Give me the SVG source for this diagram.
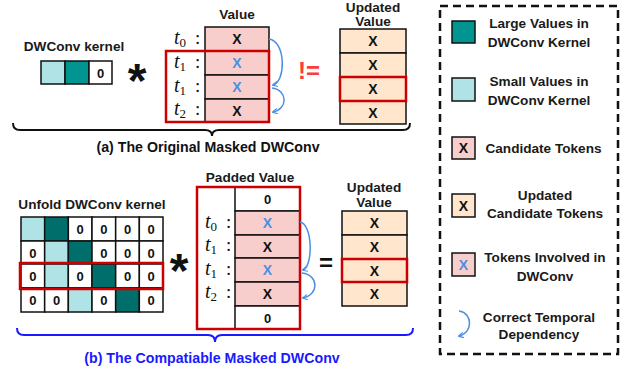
<svg xmlns="http://www.w3.org/2000/svg" width="627" height="372" viewBox="0 0 627 372">
<defs>
<marker id="ah" viewBox="0 0 8 8" refX="6" refY="4" markerWidth="6" markerHeight="6" orient="auto" markerUnits="userSpaceOnUse">
<path d="M0,0.5 L7,4 L0,7.5" fill="none" stroke="#4a90e2" stroke-width="1.5"/>
</marker>
</defs>
<style>
.lbl{font-family:"Liberation Sans",Arial,sans-serif;font-weight:bold;font-size:13.6px;fill:#1a1a1a;text-anchor:middle}
.cap{font-family:"Liberation Sans",Arial,sans-serif;font-weight:bold;font-size:14.2px;text-anchor:middle}
.x{font-family:"Liberation Sans",Arial,sans-serif;font-weight:bold;font-size:14px;text-anchor:middle;fill:#111}
.xb{fill:#4a90e2}
.z{font-family:"Liberation Sans",Arial,sans-serif;font-weight:bold;font-size:13px;text-anchor:middle;fill:#111}
.t{font-family:"Liberation Serif","Times New Roman",serif;font-style:italic;font-size:20px;fill:#111}
.sub{font-style:normal;font-size:13px}
.col{font-family:"Liberation Serif","Times New Roman",serif;font-size:19px;fill:#111}
.cell{stroke:#111;stroke-width:1.5}
.pink{fill:#f8cecc}
.peach{fill:#ffe6cc}
.white{fill:#fff}
.lt{fill:#b0e3e6}
.tl{fill:#009590}
.tld{fill:#006f6b}
.red{fill:none;stroke:#cc0000;stroke-width:2.5}
.arc{fill:none;stroke:#4a90e2;stroke-width:1.5;marker-end:url(#ah)}
.op{font-family:"Liberation Sans",Arial,sans-serif;font-weight:bold;fill:#111;text-anchor:middle}
</style>
<rect width="627" height="372" fill="#fff"/>

<!-- (a) Original -->
<g id="kernel-a">
<text class="lbl" x="74" y="51">DWConv kernel</text>
<rect class="cell lt" x="41" y="61" width="24" height="23"/>
<rect class="cell tl" x="65" y="61" width="24" height="23"/>
<rect class="cell white" x="89" y="61" width="23" height="23"/>
<text class="z" x="100.5" y="77.5">0</text>
</g>
<g id="op-star-a"><text class="op" x="137" y="97" font-size="48">*</text></g>
<g id="value-a">
<text class="lbl" x="237" y="19">Value</text>
<rect class="cell pink" x="205" y="27" width="64" height="24"/>
<rect class="cell pink" x="205" y="51" width="64" height="24"/>
<rect class="cell pink" x="205" y="75" width="64" height="24"/>
<rect class="cell pink" x="205" y="99" width="64" height="23"/>
<text class="x" x="237" y="44">X</text>
<text class="x xb" x="237" y="68">X</text>
<text class="x xb" x="237" y="92">X</text>
<text class="x" x="237" y="116">X</text>
<text class="t" x="174" y="44">t<tspan class="sub" dy="3">0</tspan></text><text class="col" x="195" y="44">:</text>
<text class="t" x="174" y="68">t<tspan class="sub" dy="3">1</tspan></text><text class="col" x="195" y="68">:</text>
<text class="t" x="174" y="92">t<tspan class="sub" dy="3">1</tspan></text><text class="col" x="195" y="92">:</text>
<text class="t" x="174" y="115">t<tspan class="sub" dy="3">2</tspan></text><text class="col" x="195" y="115">:</text>
<rect class="red" x="166" y="51" width="103" height="71"/>
</g>
<g id="neq"><text class="op" x="309" y="79" font-size="24" style="fill:#ff3b3b">!=</text></g>
<g id="updated-a">
<text class="lbl" x="373" y="11.5">Updated</text>
<text class="lbl" x="373" y="25.5">Value</text>
<rect class="cell peach" x="340" y="29" width="66" height="24"/>
<rect class="cell peach" x="340" y="53" width="66" height="24"/>
<rect class="cell peach" x="340" y="77" width="66" height="24"/>
<rect class="cell peach" x="340" y="101" width="66" height="23"/>
<text class="x" x="373" y="46">X</text>
<text class="x" x="373" y="70">X</text>
<text class="x" x="373" y="94">X</text>
<text class="x" x="373" y="118">X</text>
<rect class="red" x="340" y="77" width="66" height="24"/>
</g>
<g id="caption-a">
<path d="M13,123 Q13,130 20,130 L205,130 Q212,130 212,136 Q212,130 219,130 L403,130 Q410,130 410,123" fill="none" stroke="#111" stroke-width="2"/>
<text class="cap" x="208" y="152" fill="#111">(a) The Original Masked DWConv</text>
</g>

<!-- (b) Compatible -->
<g id="kernel-b">
<text class="lbl" x="92" y="209">Unfold DWConv kernel</text>
<g>
<rect class="cell lt" x="21" y="217" width="23.67" height="24"/>
<rect class="cell tld" x="44.67" y="217" width="23.67" height="24"/>
<rect class="cell white" x="68.33" y="217" width="23.67" height="24"/>
<rect class="cell white" x="92" y="217" width="23.67" height="24"/>
<rect class="cell white" x="115.67" y="217" width="23.67" height="24"/>
<rect class="cell white" x="139.33" y="217" width="23.67" height="24"/>

<rect class="cell white" x="21" y="241" width="23.67" height="23"/>
<rect class="cell lt" x="44.67" y="241" width="23.67" height="23"/>
<rect class="cell tld" x="68.33" y="241" width="23.67" height="23"/>
<rect class="cell white" x="92" y="241" width="23.67" height="23"/>
<rect class="cell white" x="115.67" y="241" width="23.67" height="23"/>
<rect class="cell white" x="139.33" y="241" width="23.67" height="23"/>

<rect class="cell white" x="21" y="264" width="23.67" height="24"/>
<rect class="cell lt" x="44.67" y="264" width="23.67" height="24"/>
<rect class="cell white" x="68.33" y="264" width="23.67" height="24"/>
<rect class="cell tld" x="92" y="264" width="23.67" height="24"/>
<rect class="cell white" x="115.67" y="264" width="23.67" height="24"/>
<rect class="cell white" x="139.33" y="264" width="23.67" height="24"/>

<rect class="cell white" x="21" y="288" width="23.67" height="24"/>
<rect class="cell white" x="44.67" y="288" width="23.67" height="24"/>
<rect class="cell lt" x="68.33" y="288" width="23.67" height="24"/>
<rect class="cell white" x="92" y="288" width="23.67" height="24"/>
<rect class="cell tld" x="115.67" y="288" width="23.67" height="24"/>
<rect class="cell white" x="139.33" y="288" width="23.67" height="24"/>
</g>
<text class="z" x="80.2" y="234">0</text><text class="z" x="103.8" y="234">0</text><text class="z" x="127.5" y="234">0</text><text class="z" x="151.2" y="234">0</text>
<text class="z" x="32.8" y="257.5">0</text><text class="z" x="103.8" y="257.5">0</text><text class="z" x="127.5" y="257.5">0</text><text class="z" x="151.2" y="257.5">0</text>
<text class="z" x="32.8" y="281">0</text><text class="z" x="80.2" y="281">0</text><text class="z" x="127.5" y="281">0</text><text class="z" x="151.2" y="281">0</text>
<text class="z" x="32.8" y="305">0</text><text class="z" x="56.5" y="305">0</text><text class="z" x="103.8" y="305">0</text><text class="z" x="151.2" y="305">0</text>
<rect class="red" x="20" y="263" width="143" height="26"/>
</g>
<g id="op-star-b"><text class="op" x="179" y="287" font-size="48">*</text></g>
<g id="value-b">
<text class="lbl" x="250" y="182">Padded Value</text>
<rect class="cell white" x="235" y="187" width="65" height="24"/>
<rect class="cell pink" x="235" y="211" width="65" height="24"/>
<rect class="cell pink" x="235" y="235" width="65" height="23"/>
<rect class="cell pink" x="235" y="258" width="65" height="24"/>
<rect class="cell pink" x="235" y="282" width="65" height="24"/>
<rect class="cell white" x="235" y="306" width="65" height="23"/>
<text class="z" x="267.5" y="203.5">0</text>
<text class="x xb" x="267.5" y="228">X</text>
<text class="x" x="267.5" y="251.5">X</text>
<text class="x xb" x="267.5" y="275">X</text>
<text class="x" x="267.5" y="299">X</text>
<text class="z" x="267.5" y="322.5">0</text>
<text class="t" x="205" y="228">t<tspan class="sub" dy="3">0</tspan></text><text class="col" x="226" y="228">:</text>
<text class="t" x="205" y="251">t<tspan class="sub" dy="3">1</tspan></text><text class="col" x="226" y="251">:</text>
<text class="t" x="205" y="275">t<tspan class="sub" dy="3">1</tspan></text><text class="col" x="226" y="275">:</text>
<text class="t" x="205" y="298">t<tspan class="sub" dy="3">2</tspan></text><text class="col" x="226" y="298">:</text>
<rect class="red" x="197" y="187" width="103" height="142"/>
</g>
<g id="eq"><text class="op" x="326" y="271" font-size="24">=</text></g>
<g id="updated-b">
<text class="lbl" x="374" y="192">Updated</text>
<text class="lbl" x="374" y="207">Value</text>
<rect class="cell peach" x="342" y="211" width="65" height="24"/>
<rect class="cell peach" x="342" y="235" width="65" height="24"/>
<rect class="cell peach" x="342" y="259" width="65" height="23"/>
<rect class="cell peach" x="342" y="282" width="65" height="24"/>
<text class="x" x="374.5" y="228">X</text>
<text class="x" x="374.5" y="252">X</text>
<text class="x" x="374.5" y="275.5">X</text>
<text class="x" x="374.5" y="299">X</text>
<rect class="red" x="342" y="259" width="65" height="23"/>
</g>
<g id="caption-b">
<path d="M17,328 Q17,335 24,335 L208,335 Q215,335 215,342 Q215,335 222,335 L406,335 Q413,335 413,328" fill="none" stroke="#1a1aff" stroke-width="2"/>
<text class="cap" x="212" y="363" fill="#1a1aff">(b) The Compatiable Masked DWConv</text>
</g>

<!-- connectors -->
<g id="connectors">
<path class="arc" d="M269,39 C286,41 286,82 273,85"/>
<path class="arc" d="M272,88 C288,90 288,109 273,112"/>
<path class="arc" d="M300,222 C313,224 313,267 303,270"/>
<path class="arc" d="M302,273 C319,275 319,295 303,298"/>
</g>

<!-- legend -->
<g id="legend">
<rect x="440" y="6" width="178" height="348" fill="none" stroke="#111" stroke-width="2.5" stroke-dasharray="8,5"/>
<g id="leg-large">
<rect class="cell tl" x="452" y="21" width="23" height="22"/>
<text class="lbl" x="539" y="28">Large Values in</text>
<text class="lbl" x="539" y="47">DWConv Kernel</text>
</g>
<g id="leg-small">
<rect class="cell lt" x="452" y="78" width="23" height="23"/>
<text class="lbl" x="539" y="86">Small Values in</text>
<text class="lbl" x="539" y="105">DWConv Kernel</text>
</g>
<g id="leg-cand">
<rect class="cell pink" x="452" y="137" width="23" height="22"/>
<text class="x" x="463.5" y="153">X</text>
<text class="lbl" x="543.5" y="153">Candidate Tokens</text>
</g>
<g id="leg-upd">
<rect class="cell peach" x="452" y="194" width="23" height="23"/>
<text class="x" x="463.5" y="210.5">X</text>
<text class="lbl" x="545" y="200">Updated</text>
<text class="lbl" x="545" y="218">Candidate Tokens</text>
</g>
<g id="leg-inv">
<rect class="cell pink" x="452" y="253" width="23" height="23"/>
<text class="x xb" x="463.5" y="269.5">X</text>
<text class="lbl" x="545" y="262">Tokens Involved in</text>
<text class="lbl" x="545" y="281">DWConv</text>
</g>
<g id="leg-dep">
<path class="arc" d="M459,311 C473,313 473,333 459,336"/>
<text class="lbl" x="539" y="322">Correct Temporal</text>
<text class="lbl" x="539" y="339">Dependency</text>
</g>
</g>
</svg>
